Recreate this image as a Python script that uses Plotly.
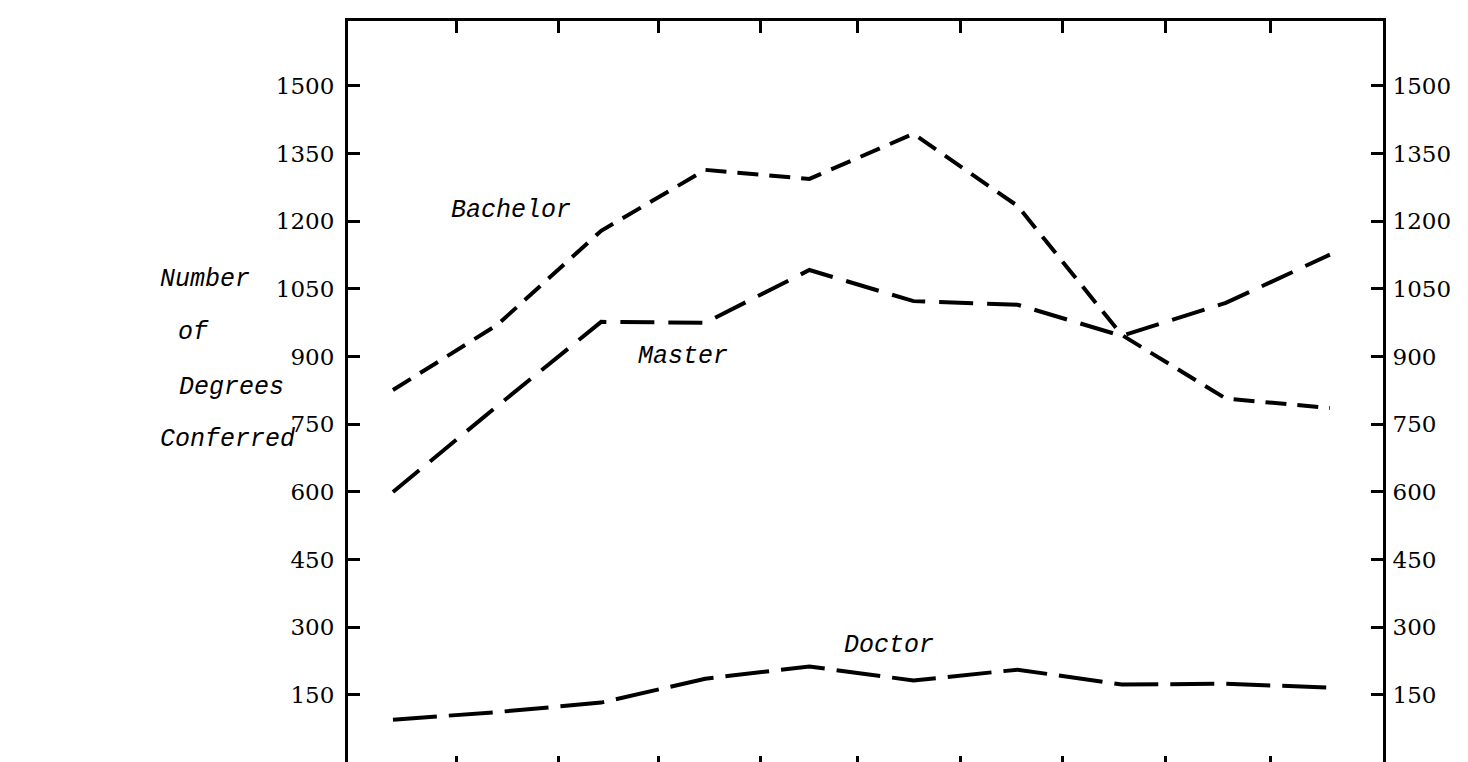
import plotly.graph_objects as go

# ten reporting periods, no labels on the original x axis
periods = list(range(10))
bachelor = [826, 970, 1179, 1314, 1294, 1394, 1234, 948, 807, 786]
master = [600, 790, 977, 975, 1092, 1023, 1015, 946, 1019, 1126]
doctor = [95, 112, 133, 186, 213, 182, 206, 173, 175, 166]

y_ticks = [150, 300, 450, 600, 750, 900, 1050, 1200, 1350, 1500]
x_ticks = [0.61, 1.59, 2.55, 3.53, 4.46, 5.45, 6.43, 7.42, 8.43]

axis_title = ["Number", "of", "Degrees", "Conferred"]

mono = dict(family="Liberation Mono", size=25, color="black", style="italic")
serif = dict(family="DejaVu Serif", size=23, color="black")

fig = go.Figure()
fig.add_trace(go.Scatter(x=periods, y=bachelor, mode="lines", name="Bachelor",
                         line=dict(color="black", width=4, dash="21px,11px")))
fig.add_trace(go.Scatter(x=periods, y=master, mode="lines", name="Master",
                         line=dict(color="black", width=4, dash="34px,14px")))
fig.add_trace(go.Scatter(x=periods, y=doctor, mode="lines", name="Doctor",
                         line=dict(color="black", width=4, dash="44px,12px")))
# carrier for the right-hand axis
fig.add_trace(go.Scatter(x=periods[:1], y=bachelor[:1], yaxis="y2", mode="markers",
                         marker=dict(opacity=0), hoverinfo="skip", showlegend=False))

yrange = [-12, 1644]
yax = dict(range=yrange, tickvals=y_ticks, ticks="inside", ticklen=12, tickwidth=3,
           tickcolor="black", showline=True, linewidth=3, linecolor="black",
           showgrid=False, zeroline=False, tickfont=serif)

fig.update_layout(
    width=1468, height=762, autosize=False,
    paper_bgcolor="white", plot_bgcolor="white",
    margin=dict(l=340, r=93, t=13, b=2),
    showlegend=False,
    xaxis=dict(range=[-0.432, 9.51], tickvals=x_ticks, showticklabels=False,
               ticks="inside", ticklen=12, tickwidth=3, tickcolor="black",
               showline=True, linewidth=3, linecolor="black", mirror="ticks",
               showgrid=False, zeroline=False),
    yaxis=dict(**yax, side="left", ticklabelstandoff=6),
    yaxis2=dict(**yax, side="right", overlaying="y", ticklabelstandoff=2),
)

for txt, x, y in [("Bachelor", 1.13, 1223), ("Master", 2.79, 901), ("Doctor", 4.76, 259)]:
    fig.add_annotation(x=x, y=y, text=txt, showarrow=False, font=mono)

title_pos = [(150, 272), (168, 325), (169, 380), (150, 432)]
for txt, (px, py) in zip(axis_title, title_pos):
    fig.add_annotation(xref="paper", yref="y", x=0, y=150 + (687 - py) / 0.4511,
                       xanchor="left", xshift=px - 340, text=txt, showarrow=False,
                       font=mono)

fig.write_html("out.html")
